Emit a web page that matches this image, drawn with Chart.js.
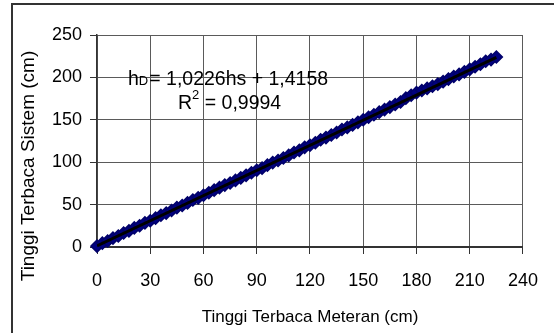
<!DOCTYPE html>
<html>
<head>
<meta charset="utf-8">
<script src="https://cdn.jsdelivr.net/npm/chart.js@4.4.1/dist/chart.umd.min.js"></script>
<style>
  html, body { margin: 0; padding: 0; background: #fff; }
  #wrap { width: 554px; height: 333px; position: relative; }
</style>
</head>
<body>
<div id="wrap"><canvas id="tinggi" width="554" height="333"></canvas></div>
<script>
// measured height from the meter vs height read by the system (cm)
const meteranCm = [0, 3, 6, 9, 12, 15, 18, 21, 24, 27, 30, 33, 36, 39, 42, 45, 48, 51, 54, 57,
  60, 63, 66, 69, 72, 75, 78, 81, 84, 87, 90, 93, 96, 99, 102, 105, 108, 111, 114, 117,
  120, 123, 126, 129, 132, 135, 138, 141, 144, 147, 150, 153, 156, 159, 162, 165, 168, 171, 174, 177,
  180, 183, 186, 189, 192, 195, 198, 201, 204, 207, 210, 213, 216, 219, 222, 225];
const sistemCm = [1, 4.5, 7, 10.5, 13, 16.5, 19, 22.5, 25, 28.5, 31, 34, 37.5, 40, 43, 46.5, 49, 52, 55.5, 58,
  61, 64, 67, 70, 73, 75.5, 78.5, 81.5, 84.5, 87.5, 90.5, 93, 96.5, 99.5, 102, 105, 108, 111.5, 114, 117.5,
  120, 123, 126.5, 129, 132, 135, 138.5, 141, 144, 147, 150, 153, 156, 159, 162, 165, 168, 171, 175.5, 179,
  182, 184.5, 187, 189.5, 192, 195, 198, 201, 203.5, 206.5, 209.5, 212.5, 215.5, 219, 221, 224];

// linear trend line ends
const trendX = [0, 225];
const trendY = [1.4, 223.5];

const xTicks = [0, 30, 60, 90, 120, 150, 180, 210, 240];
const yTicks = [0, 50, 100, 150, 200, 250];

const xTitle = 'Tinggi Terbaca Meteran (cm)';
const yTitle = 'Tinggi Terbaca Sistem (cm)';

const FONT = "'Liberation Sans', Arial, sans-serif";

const pts = meteranCm.map((x, i) => ({ x: x, y: sistemCm[i] }));
const trend = trendX.map((x, i) => ({ x: x, y: trendY[i] }));

const extras = {
  id: 'extras',
  beforeDraw: (chart) => {
    const {ctx} = chart;
    ctx.save();
    ctx.fillStyle = '#fff';
    ctx.fillRect(0, 0, chart.width, chart.height);
    // outer frame
    ctx.strokeStyle = '#333';
    ctx.lineWidth = 2;
    ctx.beginPath();
    ctx.moveTo(12, chart.height);
    ctx.lineTo(12, 4);
    ctx.lineTo(chart.width, 4);
    ctx.stroke();
    ctx.restore();
  },
  afterDraw: (chart) => {
    const {ctx} = chart;
    ctx.save();
    ctx.fillStyle = '#000';
    ctx.textBaseline = 'alphabetic';
    // y axis title
    ctx.save();
    ctx.translate(34, 166);
    ctx.rotate(-Math.PI / 2);
    ctx.font = '19px ' + FONT;
    ctx.textAlign = 'center';
    ctx.fillText(yTitle, 0, 0);
    ctx.restore();
    // equation
    let x = 128;
    ctx.font = '19.5px ' + FONT;
    ctx.fillText('h', x, 85);
    x += ctx.measureText('h').width;
    ctx.font = '13px ' + FONT;
    ctx.fillText('D', x, 85);
    x += ctx.measureText('D').width;
    ctx.font = '19.5px ' + FONT;
    ctx.fillText('= 1,0226hs + 1,4158', x + 1, 85);
    // R squared
    x = 178;
    ctx.fillText('R', x, 109);
    x += ctx.measureText('R').width;
    ctx.font = '13px ' + FONT;
    ctx.fillText('2', x, 99);
    x += ctx.measureText('2').width;
    ctx.font = '19.5px ' + FONT;
    ctx.fillText(' = 0,9994', x, 109);
    ctx.restore();
  }
};

new Chart(document.getElementById('tinggi'), {
  type: 'scatter',
  data: {
    datasets: [
      {
        data: trend,
        showLine: true,
        borderColor: '#000',
        borderWidth: 3,
        pointRadius: 0,
        order: 0
      },
      {
        data: pts,
        pointStyle: 'rectRot',
        pointRadius: 6,
        pointBackgroundColor: '#000080',
        pointBorderColor: '#00006a',
        pointBorderWidth: 1.5,
        clip: false,
        order: 1
      }
    ]
  },
  options: {
    responsive: false,
    animation: false,
    layout: { padding: { left: 0, top: 35, right: 28, bottom: 0 } },
    plugins: { legend: { display: false }, tooltip: { enabled: false } },
    scales: {
      x: {
        type: 'linear',
        min: 0, max: 240,
        afterFit: (s) => { s.height = 86; },
        afterBuildTicks: (s) => { s.ticks = xTicks.map(v => ({ value: v })); },
        grid: { color: '#5a5a5a', lineWidth: 1, tickLength: 7, tickColor: '#333' },
        border: { color: '#333', width: 2 },
        ticks: { color: '#000', font: { family: FONT, size: 18 }, padding: 16 },
        title: { display: true, text: xTitle, color: '#000', font: { family: FONT, size: 17 }, padding: { top: 0, bottom: 5 } }
      },
      y: {
        type: 'linear',
        min: 0, max: 250,
        afterFit: (s) => { s.width = 97; },
        afterBuildTicks: (s) => { s.ticks = yTicks.map(v => ({ value: v })); },
        grid: { color: '#5a5a5a', lineWidth: 1, tickLength: 7, tickColor: '#333' },
        border: { color: '#333', width: 1.5 },
        ticks: { color: '#000', font: { family: FONT, size: 18 }, padding: 8 }
      }
    }
  },
  plugins: [extras]
});
</script>
</body>
</html>
